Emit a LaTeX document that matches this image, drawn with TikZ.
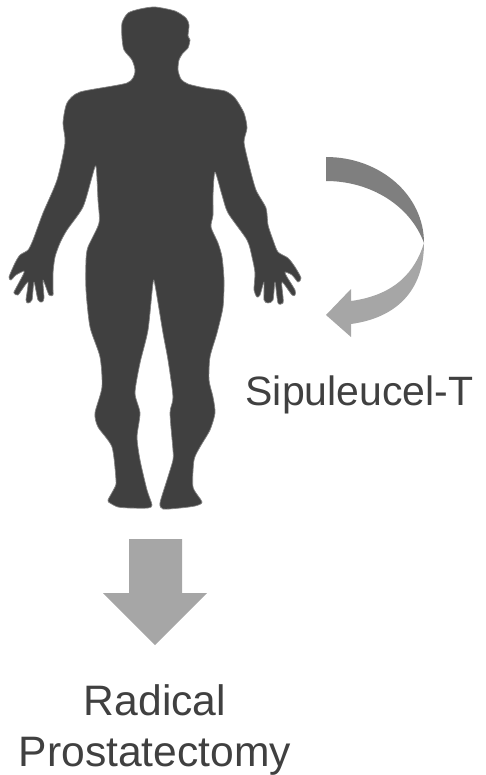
\documentclass[tikz,border=0pt]{standalone}
\usepackage{fontspec}
\setmainfont{Liberation Sans}
\definecolor{body}{HTML}{404040}
\definecolor{lightg}{HTML}{A6A6A6}
\definecolor{darkg}{HTML}{7F7F7F}
\tikzset{label text/.style={text=body,align=center,inner sep=0pt}}
\begin{document}
\begin{tikzpicture}[x=1pt,y=-1pt]
\useasboundingbox (0,0) rectangle (485,775);
\fill[body,draw=body!65,line width=0.7pt,line join=round] plot[smooth cycle,tension=0.42] coordinates {
(155,7)(175,11)(186,18)(189,25)(188,36)(190,40)(188,48)(183,53)(179,60)(178,70)(181,79)(188,84)(205,88)(225,91)(235,98)(244,113)(247,128)(244,142)(249,165)(256,190)(266,208)(268,225)(273,240)
(278,252)(288,258)(295,267)(301,278)(298,282)(292,275)(285,272)(287,277)(295,290)(295,295)(292,295)(282,282)(283,297)(283,303)(278,303)(275,282)(273,300)(268,303)(264,300)(264,282)(260,295)(257,297)(254,290)(255,273)(252,257)(247,240)
(228,213)(222,195)(215,172)
(213,195)(213,215)(211,227)(218,243)(222,257)(224,280)(223,307)(217,333)(210,357)(209,380)(213,397)(215,413)(210,430)(200,447)(194,460)(193,487)(202,502)(195,506)(180,508)(163,509)(160,503)(167,480)(173,460)(173,450)(170,413)(173,397)(168,360)(163,333)(155,285)
(153,283)(148,330)(140,363)(135,393)(140,413)(137,437)(140,460)(147,490)(152,505)(148,508)(130,508)(118,507)(110,503)(108,500)(115,487)(116,480)(112,447)(98,427)(95,413)(102,387)(100,357)(90,327)(86,290)(86,260)(88,247)(99,223)(98,200)(96,166)
(92,177)(83,207)(67,230)(60,243)(55,257)(53,273)(53,290)(53,295)(49,295)(43,280)(44,298)(42,302)(38,300)(34,282)(32,300)(28,303)(26,300)(28,282)(18,295)(14,293)(15,290)(23,275)(24,271)(16,275)(11,280)(9,277)(15,263)(20,255)(28,250)(33,240)
(43,213)(57,180)(65,143)(63,123)(67,103)(80,92)(127,83)(135,72)(132,60)(124,50)(122,38)(122,23)(128,13)(140,9)};
% curved arrow
\fill[darkg] (326,157) .. controls (380,157) and (424,195) .. (424,243) .. controls (410,205) and (370,181) .. (326,181) -- cycle;
\fill[lightg] (424,243) .. controls (424,292) and (395,318) .. (351,324) -- (351,337) -- (326,315) -- (351,289) -- (351,301) .. controls (395,295) and (415,272) .. (424,243) -- cycle;
% straight arrow
\fill[lightg] (129,539) -- (182,539) -- (182,593) -- (207,593) -- (155,645) -- (103,593) -- (129,593) -- cycle;
\node[label text,font=\fontsize{41}{50}\selectfont,anchor=base] (sip) at (359.5,405) {Sipuleucel-T};
\node[label text,font=\fontsize{42.6}{51}\selectfont,anchor=center] (rp) at (155,729.5) {Radical\\Prostatectomy};
\end{tikzpicture}
\end{document}
